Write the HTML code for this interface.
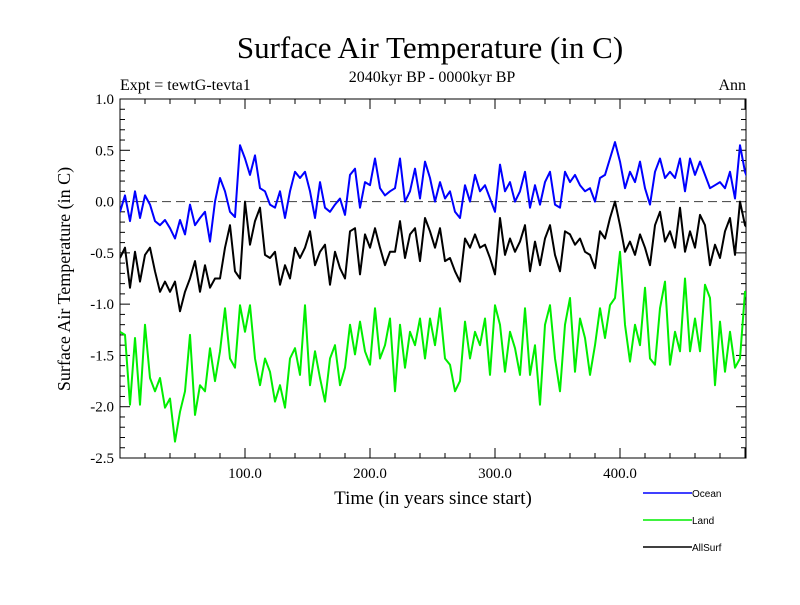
<!DOCTYPE html>
<html><head><meta charset="utf-8"><style>
body{margin:0;background:#fff}
svg text{font-family:"Liberation Serif",serif}
</style></head><body>
<svg width="800" height="600" id="c">
<text x="430" y="58" font-size="31" text-anchor="middle">Surface Air Temperature (in C)</text>
<text x="432" y="82" font-size="16" text-anchor="middle">2040kyr BP - 0000kyr BP</text>
<text x="120" y="90" font-size="16">Expt = tewtG-tevta1</text>
<text x="746" y="90" font-size="16" text-anchor="end">Ann</text>
<text transform="translate(70,279) rotate(-90)" font-size="18" text-anchor="middle">Surface Air Temperature (in C)</text>
<text x="433" y="504" font-size="19" text-anchor="middle">Time (in years since start)</text>
<defs><clipPath id="clip"><rect x="120" y="99" width="626" height="359"/></clipPath></defs>
<g id="axes"></g>
<g id="series" clip-path="url(#clip)"></g>
<g id="legend"></g>
</svg>
<script>
const ocean=[-0.10,0.06,-0.19,0.10,-0.16,0.06,-0.03,-0.19,-0.23,-0.18,-0.26,-0.36,-0.18,-0.32,-0.03,-0.23,-0.16,-0.10,-0.39,0,0.23,0.10,-0.10,-0.15,0.55,0.42,0.26,0.45,0.13,0.10,-0.03,-0.06,0.10,-0.16,0.10,0.29,0.23,0.29,0.10,-0.16,0.19,-0.06,-0.10,
-0.03,0.03,-0.13,0.26,0.32,-0.06,0.19,0.16,0.42,0.13,0.06,0.10,0.13,0.42,0,0.10,0.32,0.03,0.39,0.23,0,0.19,0.03,0.10,-0.10,-0.16,0.16,0,0.26,0.10,0.16,0.03,-0.10,0.36,0.10,0.19,0,0.10,0.29,-0.06,0.16,-0.03,0.19,0.29,
-0.03,-0.06,0.29,0.19,0.26,0.16,0.10,0.13,0,0.23,0.26,0.42,0.58,0.39,0.13,0.29,0.19,0.39,0.13,-0.03,0.29,0.42,0.23,0.29,0.23,0.42,0.10,0.42,0.26,0.39,0.26,0.13,0.16,0.19,0.13,0.29,0.03,0.55,0.29,0.16];
const allSurf=[-0.55,-0.45,-0.84,-0.49,-0.78,-0.52,-0.45,-0.68,-0.88,-0.78,-0.88,-0.78,-1.07,-0.88,-0.75,-0.58,-0.88,-0.62,-0.84,-0.75,-0.75,-0.45,-0.23,-0.68,-0.75,0,-0.42,-0.19,-0.06,-0.52,-0.55,-0.49,-0.81,-0.62,-0.75,-0.45,-0.55,-0.45,-0.29,-0.62,-0.49,-0.42,-0.81,
-0.49,-0.65,-0.75,-0.29,-0.26,-0.71,-0.32,-0.45,-0.26,-0.45,-0.62,-0.49,-0.49,-0.19,-0.55,-0.32,-0.26,-0.58,-0.16,-0.29,-0.45,-0.26,-0.58,-0.55,-0.68,-0.78,-0.36,-0.45,-0.32,-0.45,-0.42,-0.55,-0.71,-0.16,-0.52,-0.36,-0.49,-0.39,-0.23,-0.68,-0.39,-0.62,-0.36,-0.23,
-0.52,-0.68,-0.29,-0.32,-0.42,-0.36,-0.49,-0.52,-0.65,-0.29,-0.36,-0.16,0,-0.23,-0.49,-0.39,-0.52,-0.32,-0.45,-0.62,-0.23,-0.10,-0.39,-0.29,-0.45,-0.06,-0.49,-0.29,-0.45,-0.13,-0.23,-0.62,-0.42,-0.55,-0.29,-0.16,-0.52,0,-0.23,-0.29];
const land=[-1.27,-1.30,-1.98,-1.33,-1.98,-1.20,-1.72,-1.85,-1.72,-2.01,-1.92,-2.34,-2.05,-1.85,-1.30,-2.08,-1.79,-1.85,-1.43,-1.75,-1.46,-1.04,-1.53,-1.62,-1.01,-1.27,-1.01,-1.53,-1.79,-1.53,-1.66,-1.95,-1.79,-2.01,-1.53,-1.43,-1.69,-1.01,-1.79,-1.46,-1.72,-1.95,-1.53,
-1.40,-1.79,-1.62,-1.20,-1.49,-1.17,-1.46,-1.59,-1.04,-1.53,-1.40,-1.14,-1.85,-1.20,-1.62,-1.27,-1.40,-1.14,-1.53,-1.14,-1.40,-1.04,-1.53,-1.59,-1.85,-1.75,-1.17,-1.53,-1.27,-1.40,-1.14,-1.69,-1.01,-1.20,-1.66,-1.27,-1.43,-1.69,-1.04,-1.69,-1.40,-1.98,-1.20,-1.01,
-1.53,-1.85,-1.20,-0.94,-1.66,-1.14,-1.33,-1.69,-1.40,-1.04,-1.33,-1.01,-0.94,-0.49,-1.20,-1.56,-1.20,-1.40,-0.84,-1.53,-1.59,-1.04,-0.78,-1.59,-1.27,-1.46,-0.75,-1.46,-1.14,-1.46,-0.81,-0.94,-1.79,-1.17,-1.66,-1.27,-1.62,-1.53,-0.88,-1.01];
const yTicks=[1.0,0.5,0.0,-0.5,-1.0,-1.5,-2.0,-2.5];
const xTicks=[100,200,300,400];
const seriesNames=["Ocean","Land","AllSurf"];
const seriesColors=["#0000ff","#00ee00","#000000"];
const tStep=4;

const NS="http://www.w3.org/2000/svg";
const X0=120,X1=746,Y0=99,Y1=458,TMAX=500.8,VMIN=-2.5,VMAX=1.0;
const sx=t=>X0+(t/TMAX)*(X1-X0);
const sy=v=>Y1-(v-VMIN)/(VMAX-VMIN)*(Y1-Y0);
function mk(tag,attrs,parent){const e=document.createElementNS(NS,tag);for(const k in attrs)e.setAttribute(k,attrs[k]);parent.appendChild(e);return e;}
const ax=document.getElementById('axes');
const frame=mk('rect',{x:X0,y:Y0,width:X1-X0,height:Y1-Y0,fill:'none',stroke:'#000','stroke-width':1},ax);


for(let v=-2.5;v<=1.0001;v+=0.1){const maj=Math.abs(v*2-Math.round(v*2))<1e-6;const L=maj?10:5;const y=sy(v);
 mk('line',{x1:X0,x2:X0+L,y1:y,y2:y,stroke:'#000'},ax);mk('line',{x1:X1,x2:X1-L,y1:y,y2:y,stroke:'#000'},ax);}
for(let t=20;t<TMAX;t+=20){const maj=t%100===0;const L=maj?10:5;const x=sx(t);
 mk('line',{x1:x,x2:x,y1:Y1,y2:Y1-L,stroke:'#000'},ax);mk('line',{x1:x,x2:x,y1:Y0,y2:Y0+L,stroke:'#000'},ax);}
yTicks.forEach(v=>{const t=mk('text',{x:X0-6,y:sy(v)+5,'font-size':15,'text-anchor':'end'},ax);t.textContent=v.toFixed(1);
 
 });
xTicks.forEach(v=>{const t=mk('text',{x:sx(v),y:478,'font-size':15,'text-anchor':'middle'},ax);t.textContent=v.toFixed(1);
 
 });
const zl=mk('line',{x1:X0,x2:X1,y1:sy(0),y2:sy(0),stroke:'#555','stroke-dasharray':'9,5','stroke-width':1.2},ax);


const sg=document.getElementById('series');
const data=[ocean,land,allSurf];
data.forEach((arr,k)=>{const d=arr.map((v,i)=>(i?'L':'M')+sx(i*tStep).toFixed(1)+','+sy(v).toFixed(1)).join('');
 const p=mk('path',{d:d,fill:'none',stroke:seriesColors[k],'stroke-width':2,'stroke-linejoin':'round'},sg);
 
 });
const lg=document.getElementById('legend');
seriesNames.forEach((n,k)=>{const y=493+k*27;const g=mk('g',{},lg);
 
 
 mk('line',{x1:643,x2:692,y1:y,y2:y,stroke:seriesColors[k],'stroke-width':1.5},g);
 const t=mk('text',{x:692,y:y+4,'font-size':10,style:'font-family:"Liberation Sans",sans-serif'},g);t.textContent=n;});
</script>
</body></html>
